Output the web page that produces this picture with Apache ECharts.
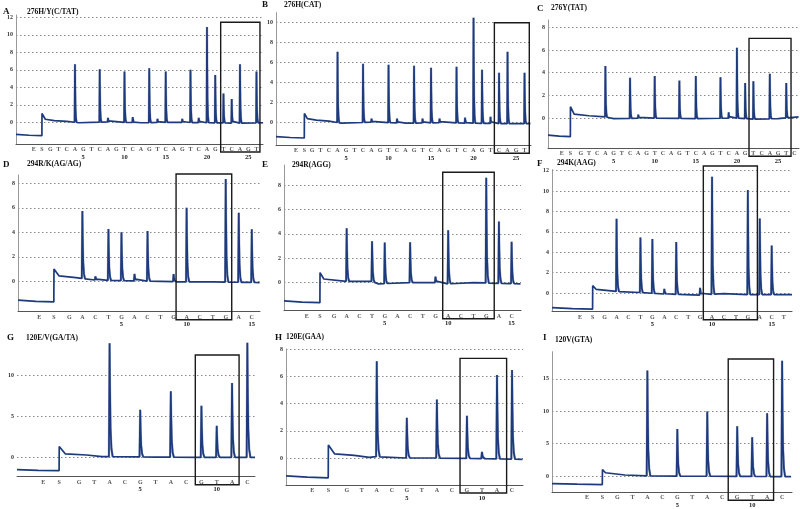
<!DOCTYPE html>
<html><head><meta charset="utf-8">
<script src="https://cdn.jsdelivr.net/npm/echarts@6/dist/echarts.min.js"></script>
<style>html,body{margin:0;padding:0;background:#fff}#c{width:800px;height:509px}</style>
</head><body><div id="c"></div>
<script>
// ---------------- DATA ----------------
// dispensation orders (x tick labels after E and S)
const lettersA = ['G','T','C','A','G','T','C','A','G','T','C','A','G','T','C','A','G','T','C','A','G','T','C','A','G','T'];
const lettersB = ['G','T','C','A','G','T','C','A','G','T','C','A','G','T','C','A','G','T','C','A','G','T','C','A','G','T'];
const lettersC = ['G','T','C','A','G','T','C','A','G','T','C','A','G','T','C','A','G','T','C','A','G','T','C','A','G','T','C'];
const lettersD = ['G','A','C','T','G','A','C','T','G','A','C','T','G','A','C'];
const lettersE = ['G','A','C','T','G','A','C','T','G','A','C','T','G','A','C'];
const lettersF = ['G','A','C','T','G','A','C','T','G','A','C','T','G','A','C','T'];
const lettersG = ['G','T','A','C','G','T','A','C','G','T','A','C'];
const lettersH = ['G','T','A','C','G','T','A','C','G','T','A','C'];
const lettersI = ['G','T','A','C','G','T','A','C','G','T','A','C'];

// positions of the E and S labels on the dispensation axis
const esA = [-1, 0], esB = [-0.9, 0.1], esC = [-1.3, -0.25];
const esD = [-1.3, -0.18], esE = [-1.15, -0.1], esF = [-1.06, 0];
const esG = [-1.33, -0.29], esH = [-1.29, -0.22], esI = [-1.04, 0];

// peak dispensation indices and peak heights
const peakIdxA = [4,7,8,10,11,13,14,15,17,18,19,20,21,22,23,24,26];
const peakValA = [6.64,6.07,0.5,5.8,0.6,6.18,0.4,5.8,0.4,6.0,0.5,10.9,5.4,3.3,2.67,6.64,5.8];
const peakIdxB = [4,7,8,10,11,13,14,15,16,18,19,20,21,22,23,24,26];
const peakValB = [7.1,5.9,0.4,5.8,0.4,5.7,0.4,5.5,0.4,5.6,0.5,10.5,5.3,0.6,5.0,7.1,5.0];
const peakIdxC = [4,7,8,10,13,15,18,19,20,21,22,24,26];
const peakValC = [4.6,3.55,0.3,3.7,3.3,3.7,3.6,0.5,6.2,3.1,3.25,3.9,3.1];
const peakIdxD = [2,3,4,5,6,7,9,10,13,14,15];
const peakValD = [5.74,0.4,4.27,4.0,0.6,4.1,0.6,6.0,8.35,5.6,4.25];
const peakIdxE = [2,4,5,7,9,10,13,14,15];
const peakValE = [4.45,3.4,3.28,3.3,0.5,4.3,8.6,5.0,3.35];
const peakIdxF = [2,4,5,6,7,9,10,13,14,15];
const peakValF = [7.28,5.44,5.3,0.4,5.0,0.5,11.4,10.1,7.3,4.65];
const peakIdxG = [3,5,7,9,10,11,12];
const peakValG = [14.0,5.8,8.1,6.3,3.85,9.1,14.05];
const peakIdxH = [3,5,7,9,10,11,12];
const peakValH = [7.1,2.95,4.3,3.1,0.45,6.1,6.45];
const peakIdxI = [3,5,7,9,10,11,12];
const peakValI = [16.3,7.27,9.95,7.7,6.0,9.7,17.8];

// baseline: level before S, level right after S, then [index, level] knots
const preA = -1.45, jumpA = 1.0, baseA = [[0.4,0.35],[1.5,0.2],[3,0.1],[4.5,-0.05],[8,0.05],[12,-0.05],[16,0],[20,-0.05],[24,-0.1],[26.8,-0.05]];
const preB = -1.45, jumpB = 0.92, baseB = [[0.45,0.4],[1.5,0.25],[3,0.15],[4.5,-0.05],[8,0.05],[12,-0.05],[16,0],[20,-0.05],[24,-0.1],[26.7,-0.1]];
const preC = -1.56, jumpC = 1.0, baseC = [[0.2,0.35],[2,0.2],[4,0.1],[5,-0.05],[10,0],[15,-0.05],[20,0],[22,-0.1],[25,-0.05],[27.5,0.1]];
const preD = -1.6, jumpD = 1.0, baseD = [[0.2,0.45],[1.5,0.3],[3,0.1],[5,0.05],[8,0],[9.5,-0.05],[12,-0.05],[15.6,-0.1]];
const preE = -1.56, jumpE = 0.82, baseE = [[0.2,0.3],[2,0.1],[4,0.1],[4.5,-0.1],[7,0],[9,0],[10,-0.1],[12,0],[15.7,-0.1]];
const preF = -1.5, jumpF = 0.72, baseF = [[0.3,0.35],[2,0.15],[4,0.05],[6,-0.1],[9,-0.2],[11,-0.05],[13,-0.15],[16.7,-0.15]];
const preG = -1.6, jumpG = 1.3, baseG = [[0.1,0.4],[1.5,0.25],[2.5,0.05],[6,0],[9,-0.05],[12.5,-0.05]];
const preH = -1.37, jumpH = 0.95, baseH = [[0.2,0.3],[1.5,0.2],[2.5,0.05],[3,0.1],[5,0],[7,0],[10,-0.05],[12.7,-0.1]];
const preI = -1.24, jumpI = 1.0, baseI = [[0.2,0.5],[1.5,0.15],[3,0],[12.6,-0.1]];

// y tick labels
const yTicksA = [0,2,4,6,8,10,12], yTicksB = [0,2,4,6,8,10], yTicksC = [0,2,4,6,8];
const yTicksD = [0,2,4,6,8], yTicksE = [0,2,4,6,8], yTicksF = [0,2,4,6,8,10,12];
const yTicksG = [0,5,10], yTicksH = [0,2,4,6,8], yTicksI = [0,5,10,15];

// highlighted box: [from index, to index, top value]
const boxA = [21.66,26.42,11.43], boxB = [22.45,26.56,10.0], boxC = [21.47,26.58,7.03];
const boxD = [9.19,13.46,8.76], boxE = [9.57,13.63,9.05], boxF = [9.27,13.8,12.45];
const boxG = [8.6,11.46,12.55], boxH = [8.54,11.64,7.31], boxI = [8.4,11.43,18.08];

const panelIds = ['A','B','C','D','E','F','G','H','I'];
const panelTitles = ['276H/Y(C/TAT)','276H(CAT)','276Y(TAT)','294R/K(AG/AG)','294R(AGG)','294K(AAG)','120E/V(GA/TA)','120E(GAA)','120V(GTA)'];

// ---------------- LAYOUT ----------------
const layout = [
  {grid:{left:16,top:15,width:247,height:129}, x:[-3.15,26.79], y:[-2.48,12.26], yLine:true, letterPos:[3,12], titlePos:[27,12]},
  {grid:{left:276,top:12.7,width:255,height:132.6}, x:[-3.24,26.76], y:[-2.26,11.0], yLine:true, letterPos:[262,5], titlePos:[284,5]},
  {grid:{left:548,top:20,width:251,height:128.3}, x:[-2.98,27.55], y:[-2.67,8.65], yLine:true, letterPos:[537,8.5], titlePos:[551,8]},
  {grid:{left:18,top:175,width:242,height:136.7}, x:[-2.94,15.63], y:[-2.48,8.68], yLine:true, letterPos:[3,165], titlePos:[27,164.5]},
  {grid:{left:284,top:165,width:237,height:145.7}, x:[-2.94,15.74], y:[-2.3,9.64], yLine:true, letterPos:[262,165], titlePos:[292,165]},
  {grid:{left:552,top:169.6,width:240,height:142.1}, x:[-3.41,16.7], y:[-1.83,12.1], yLine:true, letterPos:[537,163.5], titlePos:[557,163]},
  {grid:{left:17,top:341.6,width:238,height:135.1}, x:[-3.05,12.5], y:[-2.42,14.2], yLine:false, letterPos:[7,338], titlePos:[26,338]},
  {grid:{left:286,top:349,width:237,height:136}, x:[-3.04,12.73], y:[-1.98,8.0], yLine:true, letterPos:[275,337.5], titlePos:[286,337]},
  {grid:{left:552,top:351.7,width:240,height:140.6}, x:[-3.37,12.66], y:[-2.52,19.2], yLine:true, letterPos:[543,337.5], titlePos:[555,340]}
];

const panels = [
  {letters:lettersA, es:esA, pk:peakIdxA, pv:peakValA, pre:preA, jump:jumpA, knots:baseA, yt:yTicksA, box:boxA},
  {letters:lettersB, es:esB, pk:peakIdxB, pv:peakValB, pre:preB, jump:jumpB, knots:baseB, yt:yTicksB, box:boxB},
  {letters:lettersC, es:esC, pk:peakIdxC, pv:peakValC, pre:preC, jump:jumpC, knots:baseC, yt:yTicksC, box:boxC},
  {letters:lettersD, es:esD, pk:peakIdxD, pv:peakValD, pre:preD, jump:jumpD, knots:baseD, yt:yTicksD, box:boxD},
  {letters:lettersE, es:esE, pk:peakIdxE, pv:peakValE, pre:preE, jump:jumpE, knots:baseE, yt:yTicksE, box:boxE},
  {letters:lettersF, es:esF, pk:peakIdxF, pv:peakValF, pre:preF, jump:jumpF, knots:baseF, yt:yTicksF, box:boxF},
  {letters:lettersG, es:esG, pk:peakIdxG, pv:peakValG, pre:preG, jump:jumpG, knots:baseG, yt:yTicksG, box:boxG},
  {letters:lettersH, es:esH, pk:peakIdxH, pv:peakValH, pre:preH, jump:jumpH, knots:baseH, yt:yTicksH, box:boxH},
  {letters:lettersI, es:esI, pk:peakIdxI, pv:peakValI, pre:preI, jump:jumpI, knots:baseI, yt:yTicksI, box:boxI}
];

// ---------------- BUILD ----------------
const SHAPE = [[-0.045,0],[0,1],[0.025,0.6],[0.06,0.25],[0.12,0.07],[0.2,0]];
const FONT = '"Liberation Serif","DejaVu Serif",serif';

function baseAt(p, x) {
  const pts = [[p.es[1], p.jump]].concat(p.knots);
  if (x <= pts[0][0]) return pts[0][1];
  for (let j = 0; j < pts.length - 1; j++) {
    if (x <= pts[j+1][0]) {
      const t = (x - pts[j][0]) / (pts[j+1][0] - pts[j][0]);
      return pts[j][1] + t * (pts[j+1][1] - pts[j][1]);
    }
  }
  return pts[pts.length-1][1];
}
function buildTrace(p, L) {
  const s = p.es[1];
  const head = [[L.x[0], p.pre + 0.06], [(L.x[0]+s)/2, p.pre - 0.03], [s - 0.01, p.pre - 0.08], [s, p.jump]];
  const items = [];
  p.knots.forEach(k => {
    const inPeak = p.pk.some(i => k[0] > i + SHAPE[0][0] && k[0] < i + SHAPE[SHAPE.length-1][0]);
    if (!inPeak) items.push([k[0], k[1]]);
  });
  const halo = [];
  p.pk.forEach((i, n) => {
    const h = p.pv[n];
    SHAPE.forEach(([dx, f]) => {
      const b = baseAt(p, i + dx);
      const pt = [i + dx, b + (h - b) * f];
      items.push(pt);
      halo.push(pt);
    });
    halo.push([i + 0.21, '-']);
  });
  items.sort((a, b) => a[0] - b[0]);
  return {trace: head.concat(items), halo};
}

const grids = [], xAxes = [], yAxes = [], series = [];
panels.forEach((p, k) => {
  const L = layout[k];
  grids.push(Object.assign({containLabel:false, outerBoundsMode:'none'}, L.grid));
  const labels = ['E','S'].concat(p.letters);
  const pos = [p.es[0], p.es[1]].concat(p.letters.map((_, j) => j + 1));
  xAxes.push({
    type:'value', gridIndex:k, min:L.x[0], max:L.x[1],
    axisLine:{show:true, onZero:false, lineStyle:{color:'#555', width:1}},
    axisTick:{show:false, customValues:pos},
    splitLine:{show:false},
    axisLabel:{
      customValues:pos, margin:2, interval:0, hideOverlap:false,
      formatter:(v) => {
        let j = -1;
        for (let q = 0; q < pos.length; q++) if (Math.abs(pos[q] - v) < 1e-6) j = q;
        if (j < 0) return '';
        const idx = j - 1;
        if (j >= 2 && idx % 5 === 0) return '{l|' + labels[j] + '}\n{n|' + idx + '}';
        return '{l|' + labels[j] + '}';
      },
      rich:{
        l:{fontSize:6, lineHeight:7, fontWeight:'bold', color:'#555', fontFamily:FONT},
        n:{fontSize:6.5, lineHeight:8, fontWeight:'bold', color:'#222', fontFamily:FONT}
      }
    }
  });
  yAxes.push({
    type:'value', gridIndex:k, min:L.y[0], max:L.y[1],
    axisLine:{show:L.yLine, onZero:false, lineStyle:{color:'#999', width:1}},
    axisTick:{show:false, customValues:p.yt},
    axisLabel:{customValues:p.yt, margin:3, fontSize:6, fontWeight:'bold', color:'#333', fontFamily:FONT},
    splitLine:{show:true, lineStyle:{type:[1.5,2.5], color:'#8a8a8a', width:1}}
  });
  const tr = buildTrace(p, L);
  series.push({
    type:'line', xAxisIndex:k, yAxisIndex:k, data:tr.halo, showSymbol:false, connectNulls:false,
    lineStyle:{color:'#a9b4cc', width:2.4}, z:2, silent:true
  });
  series.push({
    type:'line', xAxisIndex:k, yAxisIndex:k, data:tr.trace, showSymbol:false,
    lineStyle:{color:'#1d3a7c', width:1.7}, z:3, silent:true
  });
});

const chart = echarts.init(document.getElementById('c'), null, {renderer:'canvas'});
chart.setOption({
  animation:false, backgroundColor:'#fff',
  grid:grids, xAxis:xAxes, yAxis:yAxes, series:series
});

// titles and highlight boxes (box corners through the axes' own scales)
const graphics = [];
panels.forEach((p, k) => {
  const L = layout[k];
  graphics.push({type:'text', x:L.letterPos[0], y:L.letterPos[1],
    style:{text:panelIds[k], font:'bold 9px ' + FONT, fill:'#111', verticalAlign:'middle'}});
  graphics.push({type:'text', x:L.titlePos[0], y:L.titlePos[1],
    style:{text:panelTitles[k], font:'bold 7.5px ' + FONT, fill:'#111', verticalAlign:'middle'}});
  const tl = chart.convertToPixel({gridIndex:k}, [p.box[0], p.box[2]]);
  const br = chart.convertToPixel({gridIndex:k}, [p.box[1], L.y[0]]);
  graphics.push({type:'rect', z:100,
    shape:{x:tl[0], y:tl[1], width:br[0]-tl[0], height:(br[1]+8)-tl[1]},
    style:{fill:'none', stroke:'#1a1a1a', lineWidth:1.4}});
});
chart.setOption({graphic:graphics});
</script>
</body></html>
